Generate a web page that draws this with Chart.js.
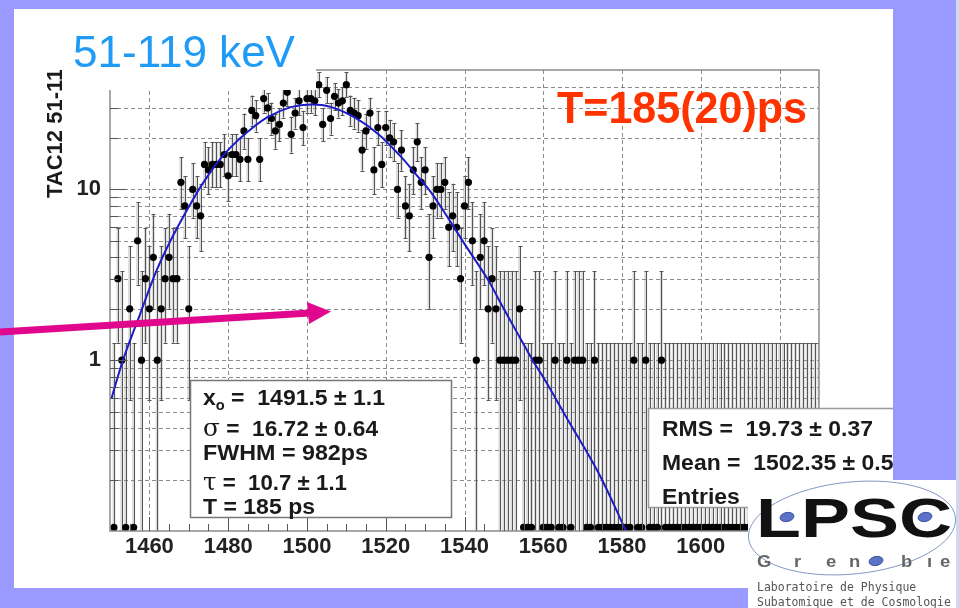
<!DOCTYPE html>
<html><head><meta charset="utf-8">
<script src="https://cdn.jsdelivr.net/npm/chart.js@4.4.0/dist/chart.umd.min.js"></script>
<style>html,body{margin:0;padding:0;background:#9999ff;overflow:hidden}canvas{display:block}</style>
</head><body>
<canvas id="c" width="959" height="608"></canvas>
<script>
// ---------------- data ----------------
const xRange = [1450, 1630];
const yRange = [0.1, 50];
const xTickLabels = [1460, 1480, 1500, 1520, 1540, 1560, 1580, 1600, 1620];
const yTickLabels = [1, 10];
const yGridValues = [0.2,0.3,0.4,0.5,0.6,0.7,0.8,0.9,1,2,3,4,5,6,7,8,9,10,20,30,40];
const binLow = 1450.5;   // left edge of first bin
const binWidth = 1;
// counts per bin (1450.5 ... 1630.5)
const counts = [
  0, 3, 1, 0, 2, 0, 5, 1, 3, 2,   4, 1, 2, 3, 4, 3, 3,11, 8, 2,
 10, 8, 7,14,13,14,14,14,16,12,  16,16,15,22,15,29,27,15,34,30,
 26,22,24,32,37,21,28,33,23,34,  34,33,41,24,38,26,35,32,33,41,
 29,28,27,17,22,28,13,23,14,23,  20,19,10,17, 8, 7,13,19,11,13,
  4, 8,10,10,11, 6, 7, 6, 3, 8,  11, 5, 1, 4, 5, 2, 3, 2, 1, 1,
  1, 1, 1, 2, 0, 0, 0, 1, 1, 0,   0, 0, 1, 0, 0, 1, 0, 1, 1, 1,
  0, 0, 1, 0, 0, 0, 0, 0, 0, 0,   0, 0, 1, 0, 0, 1, 0, 0, 0, 1,
  0, 0, 0, 0, 0, 0, 0, 0, 0, 0,   0, 0, 0, 0, 0, 0, 0, 0, 0, 0,
  0, 0, 0, 0, 0, 0, 0, 0, 0, 0,   0, 0, 0, 0, 0, 0, 0, 0, 0, 0
];
const zeroErrHigh = 1.26;   // upper error drawn for empty bins
const zeroDrawValue = 0.105; // empty bins are drawn on the bottom axis
// fitted curve
const fitX = [1450.4,1453.3,1457.6,1461.7,1465.9,1471.4,1474.4,1477.3,1480.5,1485,1490,1495.9,1501,1506,1512,1518,1523.8,1528,1531.5,1535.3,1540,1546,1549,1553,1557.3,1560.5,1565.7,1574.2,1581];
const fitY = [0.6,1.0,1.85,3.3,5.3,9.0,11.6,14.4,17.5,21.8,26.5,30.3,31.4,30.4,26.5,21.2,15.6,12.0,9.6,7.1,4.8,2.95,2.2,1.5,1.0,0.76,0.47,0.215,0.1];

const titleText = '51-119 keV';
const resultText = 'T=185(20)ps';
const yAxisTitle = 'TAC12 51-119';
const fitStats = [['x', 'o', ' =  1491.5 \u00b1 1.1'], ['\u03c3', '', ' =  16.72 \u00b1 0.64'], ['', '', 'FWHM = 982ps'], ['\u03c4', '', ' =  10.7 \u00b1 1.1'], ['', '', 'T = 185 ps']];
const histStats = ['RMS =  19.73 \u00b1 0.37', 'Mean =  1502.35 \u00b1 0.5', 'Entries'];
const logoLines = ['Laboratoire de Physique', 'Subatomique et de Cosmologie'];

// ---------------- drawing ----------------
const SANS = '"Liberation Sans", Arial, sans-serif';
function errHigh(n){ return n > 0 ? n + Math.sqrt(n + 0.75) + 1 : zeroErrHigh; }
function errLow(n){ return n > 0 ? n - Math.sqrt(n) : 0; }

const points = counts.map((n, i) => ({x: binLow + (i + 0.5) * binWidth, y: n > 0 ? n : zeroDrawValue}));
const fitPts = fitX.map((x, i) => ({x, y: fitY[i]}));

function line(ctx, x1, y1, x2, y2){ ctx.beginPath(); ctx.moveTo(x1, y1); ctx.lineTo(x2, y2); ctx.stroke(); }

const bgPlugin = {
  id: 'bg',
  beforeDraw(chart){
    const ctx = chart.ctx;
    ctx.save();
    ctx.fillStyle = '#9999ff'; ctx.fillRect(0, 0, 959, 608);
    ctx.fillStyle = '#ffffff'; ctx.fillRect(14, 9, 879, 579);
    ctx.restore();
  }
};

const gridPlugin = {
  id: 'grid',
  beforeDatasetsDraw(chart){
    const {ctx, chartArea: a} = chart;
    const xs = chart.scales.x, ys = chart.scales.y;
    ctx.save();
    ctx.strokeStyle = 'rgba(100,100,100,0.75)'; ctx.lineWidth = 1; ctx.setLineDash([4, 3]);
    yGridValues.forEach(v => { const y = Math.round(ys.getPixelForValue(v)) + 0.5; line(ctx, a.left, y, a.right, y); });
    xTickLabels.forEach(v => { const x = Math.round(xs.getPixelForValue(v)) + 0.5; if (x < a.right) line(ctx, x, a.top, x, a.bottom); });
    ctx.setLineDash([]);
    // error boxes and bars
    ctx.beginPath(); ctx.rect(a.left, a.top, a.right - a.left, a.bottom - a.top); ctx.clip();
    const bw = xs.getPixelForValue(binLow + binWidth) - xs.getPixelForValue(binLow);
    counts.forEach((n, i) => {
      const xc = xs.getPixelForValue(binLow + (i + 0.5) * binWidth);
      const lo = Math.max(errLow(n), yRange[0]);
      const yHi = ys.getPixelForValue(errHigh(n));
      const yLo = ys.getPixelForValue(lo);
      ctx.fillStyle = 'rgba(150,150,150,0.35)';
      ctx.fillRect(xc - bw * 0.38, yHi, bw * 0.76, yLo - yHi);
      ctx.strokeStyle = '#555'; ctx.lineWidth = 1;
      const xp = Math.round(xc) + 0.5;
      line(ctx, xp, yHi, xp, yLo);
      line(ctx, xp - 2, Math.round(yHi) + 0.5, xp + 2, Math.round(yHi) + 0.5);
      if (errLow(n) > yRange[0]) line(ctx, xp - 2, Math.round(yLo) + 0.5, xp + 2, Math.round(yLo) + 0.5);
    });
    ctx.restore();
  }
};

function fitText(ctx, s, x, y, w){
  const m = ctx.measureText(s).width;
  ctx.save(); ctx.translate(x, y); ctx.scale(w / m, 1); ctx.fillText(s, 0, 0); ctx.restore();
}

// draws a stats row made of [symbol, subscript, rest] stretched to width w
function statRow(ctx, r, x, y, w){
  const symFont = r[0] === 'x' ? 'bold 22px ' + SANS : '24px "DejaVu Serif", "Liberation Serif", serif';
  const subFont = 'bold 14px ' + SANS, mainFont = 'bold 22px ' + SANS;
  let total = 0;
  ctx.font = symFont; const w0 = r[0] ? ctx.measureText(r[0]).width : 0;
  ctx.font = subFont; const w1 = r[1] ? ctx.measureText(r[1]).width : 0;
  ctx.font = mainFont; const w2 = ctx.measureText(r[2]).width;
  total = w0 + w1 + w2;
  ctx.save(); ctx.translate(x, y); ctx.scale(w / total, 1);
  let cx = 0;
  if (r[0]) { ctx.font = symFont; ctx.fillText(r[0], 0, 0); cx += w0; }
  if (r[1]) { ctx.font = subFont; ctx.fillText(r[1], cx, 5); cx += w1; }
  ctx.font = mainFont; ctx.fillText(r[2], cx, 0);
  ctx.restore();
}

const overlayPlugin = {
  id: 'overlay',
  afterDraw(chart){
    const {ctx, chartArea: a} = chart;
    const xs = chart.scales.x, ys = chart.scales.y;
    ctx.save();
    // frame
    ctx.strokeStyle = '#8c8c8c'; ctx.lineWidth = 1.5;
    ctx.strokeRect(a.left, a.top, a.right - a.left, a.bottom - a.top);
    // inward ticks
    ctx.strokeStyle = '#555'; ctx.lineWidth = 1;
    yGridValues.forEach(v => { const y = Math.round(ys.getPixelForValue(v)) + 0.5; line(ctx, a.left, y, a.left + (yTickLabels.includes(v) ? 16 : 8), y); });
    for (let v = xRange[0] + 5; v < xRange[1]; v += 5) {
      const x = Math.round(xs.getPixelForValue(v)) + 0.5;
      line(ctx, x, a.bottom, x, a.bottom - (v % 20 === 0 ? 14 : 7));
    }
    // fit statistics box
    ctx.fillStyle = '#fff'; ctx.fillRect(190, 380, 262, 138);
    ctx.strokeStyle = '#777'; ctx.lineWidth = 1.5; ctx.strokeRect(190.5, 380.5, 261, 137);
    const rowsY = [405, 436, 460, 490, 514];
    const rowsW = [182, 175, 165, 144, 112];
    ctx.textBaseline = 'alphabetic'; ctx.fillStyle = '#1a1a1a';
    fitStats.forEach((r, k) => statRow(ctx, r, 203, rowsY[k], rowsW[k]));
    // histogram statistics box
    ctx.fillStyle = '#fff'; ctx.fillRect(648, 408, 260, 100);
    ctx.strokeStyle = '#999'; ctx.lineWidth = 1.5; ctx.strokeRect(648.5, 408.5, 260, 99);
    ctx.fillStyle = '#1a1a1a'; ctx.font = 'bold 22px ' + SANS;
    const sx = 211 / ctx.measureText(histStats[0]).width;
    [436, 470, 504].forEach((y, k) => { const s = histStats[k]; fitText(ctx, s, 662, y, ctx.measureText(s).width * sx); });
    // right lavender band
    ctx.fillStyle = '#9999ff'; ctx.fillRect(893, 0, 66, 480);
    ctx.fillStyle = '#c9dcf4'; ctx.fillRect(956, 0, 3, 608);
    // logo
    ctx.fillStyle = '#fff'; ctx.fillRect(748, 480, 208, 128);
    ctx.strokeStyle = '#8396c4'; ctx.lineWidth = 1;
    ctx.beginPath(); ctx.ellipse(852, 528, 104, 46, -0.1, 0, Math.PI * 2); ctx.stroke();
    ctx.fillStyle = '#111'; ctx.font = 'bold 55px ' + SANS; ctx.textBaseline = 'alphabetic';
    fitText(ctx, 'LPSC', 756, 537, 196);
    ctx.fillStyle = '#5a72c8'; ctx.strokeStyle = '#3a4f9a';
    [[787, 517], [925, 517], [876, 561]].forEach(p => { ctx.beginPath(); ctx.ellipse(p[0], p[1], 7, 4.5, -0.2, 0, Math.PI * 2); ctx.fill(); ctx.stroke(); });
    ctx.fillStyle = '#666'; ctx.font = 'bold 16px ' + SANS;
    [['G', 757], ['r', 794], ['e', 826], ['n', 849], ['b', 901], ['\u0131', 927], ['e', 940]].forEach(l => {
      ctx.save(); ctx.translate(l[1], 567); ctx.scale(1.15, 1); ctx.fillText(l[0], 0, 0); ctx.restore();
    });
    ctx.fillStyle = '#555'; ctx.font = '11.5px "DejaVu Sans Mono", monospace';
    ctx.fillText(logoLines[0], 757, 591); ctx.fillText(logoLines[1], 757, 606);
    // bottom lavender strip
    ctx.fillStyle = '#9999ff'; ctx.fillRect(0, 588, 748, 20);
    // y-axis title (cut at its top like the reference)
    ctx.save();
    ctx.translate(62, 198); ctx.rotate(-Math.PI / 2);
    ctx.fillStyle = '#1a1a1a'; ctx.font = 'bold 22px ' + SANS; ctx.fillText(yAxisTitle, 0, 0);
    ctx.restore();
    ctx.fillStyle = '#fff';
    ctx.fillRect(30, 12, 75, 58);
    ctx.fillRect(105, 12, 211, 78);
    // titles
    ctx.fillStyle = '#1f9af5'; ctx.font = '44px ' + SANS;
    fitText(ctx, titleText, 73, 67, 222);
    ctx.fillStyle = '#ff3300'; ctx.font = 'bold 44px ' + SANS;
    fitText(ctx, resultText, 557, 123, 250);
    // magenta arrow
    ctx.strokeStyle = '#e0078c'; ctx.fillStyle = '#e0078c'; ctx.lineWidth = 7; ctx.lineCap = 'butt';
    line(ctx, 0, 332, 310, 313);
    ctx.beginPath(); ctx.moveTo(331, 311.5); ctx.lineTo(307, 302); ctx.lineTo(309, 324); ctx.closePath(); ctx.fill();
    ctx.restore();
  }
};

const tickFont = {family: SANS, size: 22, weight: 'bold'};
new Chart(document.getElementById('c'), {
  type: 'scatter',
  data: {datasets: [
    {label: 'fit', data: fitPts, showLine: true, borderColor: '#1c1cc8', borderWidth: 2, pointRadius: 0, tension: 0.35, fill: false, order: 0},
    {label: 'counts', data: points, showLine: false, pointRadius: 3.6, pointBackgroundColor: '#000', pointBorderColor: '#000', pointBorderWidth: 0, clip: false, order: 1}
  ]},
  options: {
    responsive: false, animation: false, devicePixelRatio: 1,
    layout: {padding: {left: 0, right: 140, top: 70, bottom: 0}},
    plugins: {legend: {display: false}, tooltip: {enabled: false}},
    scales: {
      x: {type: 'linear', min: xRange[0], max: xRange[1],
          afterFit(s){ s.height = 77; },
          afterBuildTicks(s){ s.ticks = xTickLabels.map(v => ({value: v})); },
          grid: {display: false, drawTicks: false}, border: {display: false},
          ticks: {autoSkip: false, maxRotation: 0, padding: 3, font: tickFont, color: '#222', callback: v => String(v)}},
      y: {type: 'logarithmic', min: yRange[0], max: yRange[1],
          afterFit(s){ s.width = 110; },
          afterBuildTicks(s){ s.ticks = yGridValues.map(v => ({value: v})); },
          grid: {display: false, drawTicks: false}, border: {display: false},
          ticks: {autoSkip: false, padding: 9, font: tickFont, color: '#222', callback: v => yTickLabels.includes(v) ? String(v) : ''}}
    }
  },
  plugins: [bgPlugin, gridPlugin, overlayPlugin]
});
</script>
</body></html>
